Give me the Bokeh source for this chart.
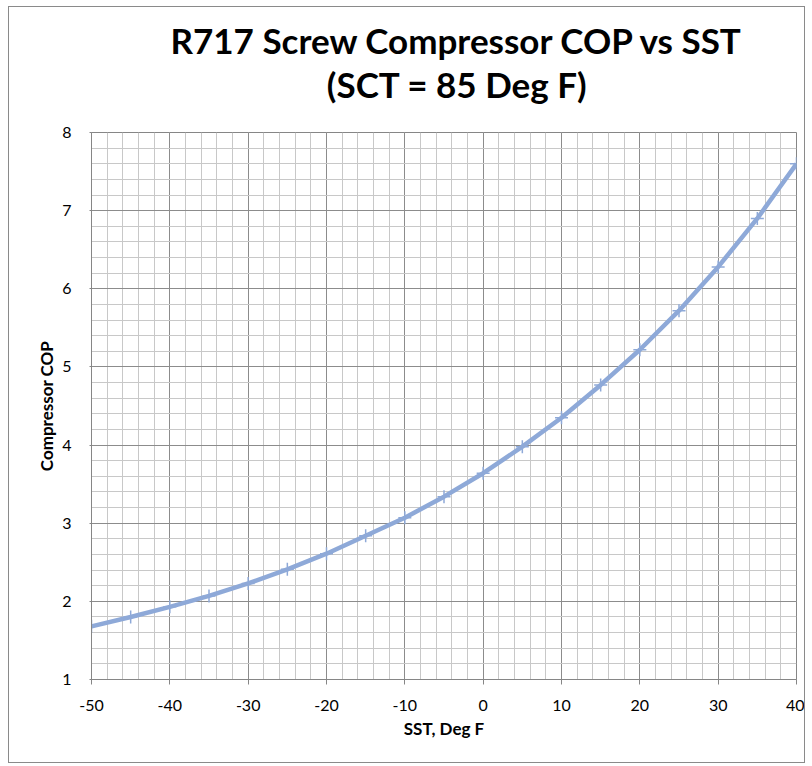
from bokeh.plotting import figure
from bokeh.layouts import column
from bokeh.models import FixedTicker, Range1d, PrintfTickFormatter, ColumnDataSource
from bokeh.core.properties import value
from bokeh.embed import file_html
from bokeh.resources import INLINE

sst = [-50, -45, -40, -35, -30, -25, -20, -15, -10, -5, 0, 5, 10, 15, 20, 25, 30, 35, 40]
cop = [1.68, 1.80, 1.93, 2.07, 2.23, 2.41, 2.61, 2.84, 3.07, 3.34, 3.64, 3.98, 4.35, 4.77, 5.22, 5.72, 6.28, 6.90, 7.60]
x_major = [-50, -40, -30, -20, -10, 0, 10, 20, 30, 40]
y_major = [1, 2, 3, 4, 5, 6, 7, 8]
title_lines = ["R717 Screw Compressor COP vs SST", "(SCT = 85 Deg F)"]

FONT = "Lato"
COLOR = "#8EA9D8"
W = 795
TITLE_H = 105
MAIN_H = 650
LEFT, RIGHT = 82, 8
TITLE_DX, TITLE_DY = -22, 14  # empirical correction of the title strip placement

# --- title strip (a figure of its own so that the text is not clipped) ---
t = figure(width=W, height=TITLE_H, output_backend="svg", toolbar_location=None,
           x_range=Range1d(0, W), y_range=Range1d(0, TITLE_H),
           x_axis_location=None, y_axis_location=None,
           min_border=0, min_border_left=0, min_border_right=0,
           min_border_top=0, min_border_bottom=0)
t.grid.visible = False
t.outline_line_color = None
t.background_fill_color = "white"
frame_center = LEFT + (W - LEFT - RIGHT) / 2 + TITLE_DX
tsrc = ColumnDataSource(dict(x=[frame_center, frame_center],
                             y=[TITLE_H - 46 + TITLE_DY, TITLE_H - 90 + TITLE_DY],
                             text=title_lines))
t.text(x="x", y="y", text="text", source=tsrc, text_align="center",
       text_baseline="alphabetic", text_font=value(FONT), text_font_size="35px",
       text_font_style="bold", text_color="#000000")

# --- main chart ---
p = figure(width=W, height=MAIN_H, output_backend="svg", toolbar_location=None,
           x_range=Range1d(-50, 40), y_range=Range1d(1, 8),
           min_border_left=LEFT, min_border_right=RIGHT, min_border_top=20, min_border_bottom=83)
p.outline_line_color = "#868686"
p.outline_line_width = 1

p.xaxis.ticker = FixedTicker(ticks=x_major, minor_ticks=list(range(-50, 41, 2)))
p.yaxis.ticker = FixedTicker(ticks=y_major, minor_ticks=[1 + 0.2 * i for i in range(36)])
p.xaxis.formatter = PrintfTickFormatter(format="%d")
p.yaxis.formatter = PrintfTickFormatter(format="%d")

p.xgrid.grid_line_color = "#8c8c8c"
p.ygrid.grid_line_color = "#8c8c8c"
p.xgrid.minor_grid_line_color = "#c8c8c8"
p.ygrid.minor_grid_line_color = "#c8c8c8"
p.xgrid.grid_line_width = 1
p.ygrid.grid_line_width = 1

for ax in (p.xaxis, p.yaxis):
    ax.axis_line_color = "#868686"
    ax.major_tick_line_color = "#868686"
    ax.major_tick_out = 5
    ax.major_tick_in = 0
    ax.minor_tick_line_color = None
    ax.major_label_text_font = FONT
    ax.major_label_text_font_size = "16px"
    ax.major_label_text_color = "#000000"
    ax.axis_label_text_font = FONT
    ax.axis_label_text_font_size = "17px"
    ax.axis_label_text_font_style = "bold"
    ax.axis_label_text_color = "#000000"

p.yaxis.major_tick_out = 2
p.xaxis.axis_label = "SST, Deg F"
p.yaxis.axis_label = "Compressor COP"
p.xaxis.major_label_standoff = 15
p.xaxis.axis_label_standoff = 4
p.yaxis.major_label_standoff = 16
p.yaxis.axis_label_standoff = 2

p.line(sst, cop, line_color=COLOR, line_width=4.5)
p.scatter(sst, cop, marker="cross", size=13, line_color=COLOR, line_width=1.5)

layout = column(t, p, spacing=0,
                styles={"border": "1px solid #8a8a8a", "margin-left": "8px", "margin-top": "6px"})

open("out.html", "w").write(file_html(layout, INLINE))
